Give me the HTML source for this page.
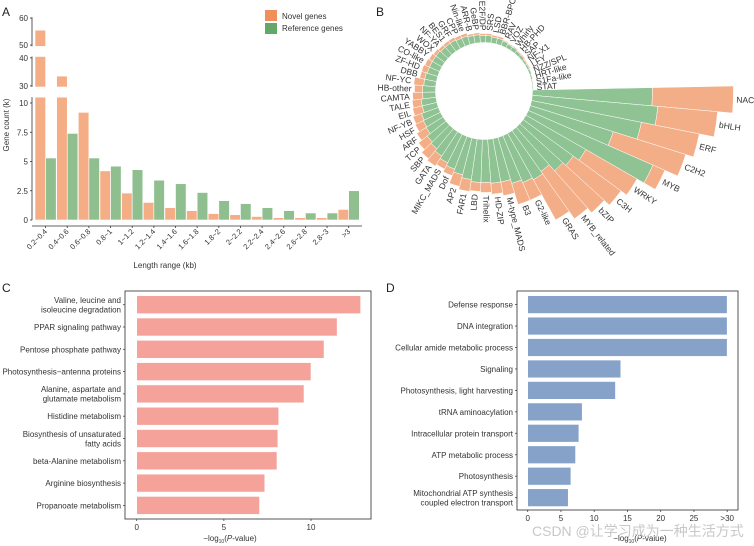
<!DOCTYPE html>
<html><head><meta charset="utf-8">
<style>
html,body{margin:0;padding:0;background:#fff;}
svg{display:block;font-family:"Liberation Sans","Noto Sans CJK SC",sans-serif;}
</style></head>
<body>
<svg id="fig" width="754" height="546" viewBox="0 0 754 546" xmlns="http://www.w3.org/2000/svg">
<text x="2" y="16" font-size="12" fill="#222">A</text>
<text x="376" y="16" font-size="12" fill="#222">B</text>
<text x="2" y="292" font-size="12" fill="#222">C</text>
<text x="386" y="292" font-size="12" fill="#222">D</text>
<g id="pa"></g>
<g id="pb"></g>
<g id="pc"></g>
<g id="pd"></g>
<text x="532" y="536" font-size="14" fill="#c8c8c8">CSDN @让学习成为一种生活方式</text>
</svg>
<script>
// ---------- Panel A data ----------
const aCategories = ["0.2~0.4","0.4~0.6","0.6~0.8","0.8~1","1~1.2","1.2~1.4","1.4~1.6","1.6~1.8","1.8~2","2~2.2","2.2~2.4","2.4~2.6","2.6~2.8","2.8~3",">3"];
const aNovel = [55.5,33.5,9.2,4.2,2.3,1.5,1.05,0.8,0.55,0.45,0.3,0.2,0.2,0.2,0.9];
const aReference = [5.3,7.4,5.3,4.6,4.3,3.4,3.1,2.35,1.65,1.4,1.05,0.8,0.6,0.6,2.5];
const aTicks = [0,2.5,5,7.5,10,30,40,50,60];
const aTickLabels = ["0","2.5","5","7.5","10","30","40","50","60"];
// ---------- Panel B data ----------
const bCategories = ["NAC","bHLH","ERF","C2H2","MYB","WRKY","C3H","bZIP","MYB_related","GRAS","G2-like","B3","M-type_MADS","HD-ZIP","Trihelix","LBD","FAR1","AP2","Dof","MIKC_MADS","GATA","SBP","TCP","ARF","HSF","NF-YB","EIL","TALE","CAMTA","HB-other","NF-YC","DBB","ZF-HD","CO-like","YABBY","WOX","NF-YA","BES1","GRF","CPP","Nin-like","ARR-B","GeBP","E2F/DP","SRS","LSD","BBR-BPC","RAV","VOZ","Whirly","HB-PHD","SAP","NF-X1","LFY","NZZ/SPL","HRT-like","S1Fa-like","STAT"];
const bReference = [120,126,112,87,136,69,62,58,50,53,51,48,44,44,43,43,41,38,35,32,29,26,24,20,19,18,15,15,13,13,12,12,11,11,11,11,10,10,10,9,9,8,8,7,7,6,6,5,4,4,3,3,2,2,2,1.5,1,1];
const bNovel = [81,60,59,76,13,59,59,56,58,46,19,22,14,11,10,9,12,12,7,7,12,13,11,11,9,9,10,9,10,8,10,5,6,5,4,3,3,3,3,3,3,2,2,2,2,2,2,1,1,1,1,1,1,1,0.5,0.5,0.5,0.3];
// ---------- Panel C data ----------
const cCategories = [["Valine, leucine and","isoleucine degradation"],["PPAR signaling pathway"],["Pentose phosphate pathway"],["Photosynthesis\u2212antenna proteins"],["Alanine, aspartate and","glutamate metabolism"],["Histidine metabolism"],["Biosynthesis of unsaturated","fatty acids"],["beta-Alanine metabolism"],["Arginine biosynthesis"],["Propanoate metabolism"]];
const cValues = [12.85,11.5,10.75,10.0,9.6,8.15,8.1,8.05,7.35,7.05];
const cTicks = [0,5,10];
// ---------- Panel D data ----------
const dCategories = [["Defense response"],["DNA integration"],["Cellular amide metabolic process"],["Signaling"],["Photosynthesis, light harvesting"],["tRNA aminoacylation"],["Intracellular protein transport"],["ATP metabolic process"],["Photosynthesis"],["Mitochondrial ATP synthesis","coupled electron transport"]];
const dValues = [30,30,30,14,13.2,8.2,7.7,7.2,6.5,6.1];
const dTicks = [0,5,10,15,20,25,30];
const dTickLabels = ["0","5","10","15","20","25",">30"];

const NS="http://www.w3.org/2000/svg";
function mk(parent,tag,attrs,text){const e=document.createElementNS(NS,tag);for(const k in attrs)e.setAttribute(k,attrs[k]);if(text!==undefined)e.textContent=text;parent.appendChild(e);return e;}

// ===== Panel A =====
(function(){
  const g=document.getElementById('pa');
  const segs=[{lo:0,hi:10.5,y0:220,k:11.7},{lo:29.6,hi:40.5,y0:87,k:2.8},{lo:49.5,hi:60.3,y0:46.4,k:2.7}];
  function segY(s,v){return s.y0-(v-s.lo)*s.k;}
  function yOf(v){for(const s of segs){if(v>=s.lo-0.01&&v<=s.hi+0.01)return segY(s,v);}return null;}
  const x0=35,pitch=21.65,bw=10.6;
  function xOf(i){return x0+i*pitch;}
  // axes
  segs.forEach(s=>{
    const ax=mk(g,'line',{x1:32,x2:32,y1:segY(s,s.lo),y2:segY(s,s.hi),stroke:'#333','stroke-width':0.8});
    
    
  });
  const xa=mk(g,'line',{x1:32,x2:362,y1:226,y2:226,stroke:'#333','stroke-width':0.8});
  
  
  aTicks.forEach((t,i)=>{
    const y=yOf(t);
    mk(g,'line',{x1:30,x2:32,y1:y,y2:y,stroke:'#333','stroke-width':0.8});
    const tl=mk(g,'text',{x:28,y:y+3,'font-size':8,'text-anchor':'end',fill:'#333'},aTickLabels[i]);
    
    
  });
  function drawBar(i,v,off,color,name){
    segs.forEach(s=>{
      if(v<=s.lo)return;
      const top=Math.min(v,s.hi);
      const yT=segY(s,top),yB=segY(s,s.lo);
      const r=mk(g,'rect',{x:xOf(i)+off,y:yT,width:bw,height:yB-yT,fill:color,stroke:'#fff','stroke-width':0.6});
      
      
    });
  }
  aCategories.forEach((c,i)=>{
    drawBar(i,aNovel[i],0,'#F5AD85','bar-novel-'+c);
    drawBar(i,aReference[i],bw,'#8FBF8E','bar-reference-'+c);
    const cx=xOf(i)+bw;
    mk(g,'line',{x1:cx,x2:cx,y1:226,y2:228,stroke:'#333','stroke-width':0.8});
    const t=mk(g,'text',{x:cx+2,y:232,'font-size':7.5,'text-anchor':'end',fill:'#333',transform:`rotate(-45 ${cx+2} 232)`},c);
    
    
  });
  const xt=mk(g,'text',{x:165,y:268,'font-size':8,'text-anchor':'middle',fill:'#333'},'Length range (kb)');
  
  
  const yt=mk(g,'text',{x:9,y:125,'font-size':8,'text-anchor':'middle',fill:'#333',transform:'rotate(-90 9 125)'},'Gene count (k)');
  
  
  const l1=mk(g,'rect',{x:265,y:10,width:12,height:11,fill:'#EF8F5C'});
  
  
  const l2=mk(g,'rect',{x:265,y:23,width:12,height:11,fill:'#62A86B'});
  
  
  const lt1=mk(g,'text',{x:282,y:19,'font-size':8,fill:'#333'},'Novel genes');
  
  
  const lt2=mk(g,'text',{x:282,y:31,'font-size':8,fill:'#333'},'Reference genes');
  
  
})();

// ===== Panel B =====
(function(){
  const g=document.getElementById('pb');
  const cx=484,cy=91,r0=48.5,n=bCategories.length,step=2*Math.PI/n;
  function pt(r,a){return [cx+r*Math.cos(a),cy+r*Math.sin(a)];}
  function sector(r1,r2,a1,a2){
    const p1=pt(r1,a1),p2=pt(r2,a1),p3=pt(r2,a2),p4=pt(r1,a2);
    return `M${p1[0]},${p1[1]}L${p2[0]},${p2[1]}A${r2},${r2} 0 0 1 ${p3[0]},${p3[1]}L${p4[0]},${p4[1]}A${r1},${r1} 0 0 0 ${p1[0]},${p1[1]}Z`;
  }
  bCategories.forEach((c,i)=>{
    const a1=i*step-0.02, a2=(i+1)*step-0.02;
    const rg=r0+bReference[i], ro=rg+bNovel[i];
    const s1=mk(g,'path',{d:sector(r0,rg,a1,a2),fill:'#8FC394',stroke:'#fff','stroke-width':0.5});
    
    
    const s2=mk(g,'path',{d:sector(rg,ro,a1,a2),fill:'#F4AE87',stroke:'#fff','stroke-width':0.5});
    
    
    const am=(a1+a2)/2, deg=am*180/Math.PI;
    const p=pt(ro+3,am);
    const right=Math.cos(am)>=0;
    const rot=right?deg:deg+180;
    const t=mk(g,'text',{x:p[0],y:p[1]+3,'font-size':8.5,fill:'#333','text-anchor':right?'start':'end',transform:`rotate(${rot} ${p[0]} ${p[1]})`},c);
    
    
  });
})();

// ===== Horizontal bar panels =====
function hbar(gid,cats,vals,ticks,tickLabels,o){
  const g=document.getElementById(gid);
  const fr=mk(g,'rect',{x:o.fx,y:o.fy,width:o.fw,height:o.fh,fill:'none',stroke:'#444','stroke-width':0.9});
  
  
  function xOf(v){return o.x0+v*o.k;}
  cats.forEach((c,i)=>{
    const y=o.y0+i*o.pitch;
    const b=mk(g,'rect',{x:xOf(0),y:y,width:xOf(vals[i])-xOf(0),height:o.bh,fill:o.color,stroke:'#fff','stroke-width':0.6});
    
    
    const ym=y+o.bh/2;
    mk(g,'line',{x1:o.fx-2,x2:o.fx,y1:ym,y2:ym,stroke:'#444','stroke-width':0.8});
    const lh=9.5;
    c.forEach((line,j)=>{
      const ty=ym+3-(c.length-1)*lh/2+j*lh;
      const t=mk(g,'text',{x:o.fx-4,y:ty,'font-size':8,'text-anchor':'end',fill:'#333'},line);
      
      
    });
  });
  ticks.forEach((t,i)=>{
    const x=xOf(t);
    mk(g,'line',{x1:x,x2:x,y1:o.fy+o.fh,y2:o.fy+o.fh+2,stroke:'#444','stroke-width':0.8});
    const tl=mk(g,'text',{x:x,y:o.fy+o.fh+11,'font-size':8,'text-anchor':'middle',fill:'#333'},tickLabels[i]);
    
    
  });
  const tt=mk(g,'text',{x:o.tx,y:o.ty,'font-size':8,'text-anchor':'middle',fill:'#333'});
  
  
  mk(tt,'tspan',{},'\u2212log');
  mk(tt,'tspan',{'font-size':5,dy:2},'10');
  mk(tt,'tspan',{dy:-2},'(');
  mk(tt,'tspan',{'font-style':'italic'},'P');
  mk(tt,'tspan',{},'-value)');
}
hbar('pc',cCategories,cValues,cTicks,cTicks.map(String),{fx:125,fy:291,fw:246,fh:228,x0:136.7,k:17.43,y0:295.7,pitch:22.3,bh:18,color:'#F5A39A',tx:230,ty:541});
hbar('pd',dCategories,dValues,dTicks,dTickLabels,{fx:517,fy:291,fw:221,fh:219,x0:527.7,k:6.65,y0:295.7,pitch:21.45,bh:17.8,color:'#86A2C9',tx:640,ty:541});
</script>
</body></html>
